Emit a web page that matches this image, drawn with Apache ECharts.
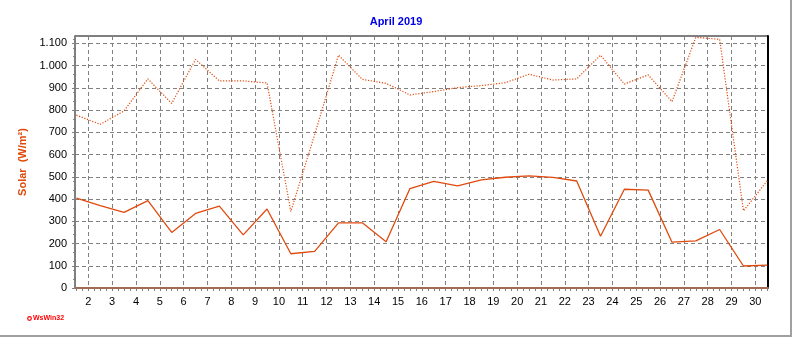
<!DOCTYPE html>
<html>
<head>
<meta charset="utf-8">
<script src="https://cdn.jsdelivr.net/npm/echarts@6/dist/echarts.min.js"></script>
<style>
html,body{margin:0;padding:0;background:#fff;}
#chart{width:792px;height:337px;}
</style>
</head>
<body>
<div id="chart"></div>
<script>
// ---- data ----
const titleText = 'April 2019';
const days = [1,2,3,4,5,6,7,8,9,10,11,12,13,14,15,16,17,18,19,20,21,22,23,24,25,26,27,28,29,30];
const solarValues = [404,370,340,393,250,335,368,239,355,154,165,293,293,208,447,479,459,486,498,504,497,481,233,444,440,206,212,263,99,103];
const solarMaxValues = [777,736,796,940,830,1028,931,931,922,344,690,1047,938,920,868,883,901,910,923,961,935,940,1047,917,958,838,1127,1118,347,482];
const solarMinValues = [0,0,0,0,0,0,0,0,0,0,0,0,0,0,0,0,0,0,0,0,0,0,0,0,0,0,0,0,0,0];
const xTickLabels = [2,3,4,5,6,7,8,9,10,11,12,13,14,15,16,17,18,19,20,21,22,23,24,25,26,27,28,29,30];
const yTickLabels = [0,100,200,300,400,500,600,700,800,900,1000,1100];

// ---- helpers ----
const LINE_COLOR = '#e04a0c';
const FONT = 'Liberation Sans, Arial, sans-serif';
const X_MIN = 1.44, X_MAX = 30.53, Y_MAX = 1133;
// each daily value is placed at midday of its day
const toPairs = vals => vals.map((v, i) => [days[i] + 0.5, v]);
const quarterTicks = [];
for (let t = 1.5; t <= 30.5; t += 0.25) quarterTicks.push(t);
const fmtThousands = v => String(v).replace(/\B(?=(\d{3})+(?!\d))/g, '.');

const chart = echarts.init(document.getElementById('chart'), null, {renderer: 'canvas'});
chart.setOption({
  animation: false,
  backgroundColor: '#ffffff',
  title: {
    text: titleText,
    left: 'center',
    top: 16,
    padding: 0,
    textStyle: {color: '#0000e6', fontSize: 11, fontWeight: 'bold', fontFamily: FONT}
  },
  grid: {
    left: 75, top: 36, right: 24, bottom: 49,
    show: true, borderColor: '#000', borderWidth: 1, backgroundColor: 'transparent'
  },
  xAxis: [
    {
      type: 'value', min: X_MIN, max: X_MAX, position: 'bottom',
      axisLine: {show: true, onZero: false, lineStyle: {color: '#808080', width: 2}},
      axisTick: {show: true, customValues: quarterTicks, length: 3, lineStyle: {color: '#808080', width: 1}},
      axisLabel: {customValues: xTickLabels, margin: 8, color: '#000', fontSize: 11, fontFamily: FONT},
      splitLine: {show: false}
    },
    {
      type: 'value', min: X_MIN, max: X_MAX, position: 'bottom',
      axisLine: {show: false},
      axisTick: {show: false, customValues: xTickLabels},
      axisLabel: {show: false, customValues: xTickLabels},
      splitLine: {show: true, lineStyle: {color: '#808080', width: 1, type: [4, 3]}}
    }
  ],
  yAxis: [
    {
      type: 'value', min: 0, max: Y_MAX, position: 'left',
      name: 'Solar  (W/m²)', nameLocation: 'middle', nameGap: 37, nameRotate: 90,
      nameTextStyle: {color: LINE_COLOR, fontSize: 11, fontWeight: 'bold', fontFamily: FONT},
      axisLine: {show: true, lineStyle: {color: '#808080', width: 2}},
      axisTick: {show: true, customValues: yTickLabels, length: 3, lineStyle: {color: '#808080'}},
      minorTick: {show: true, splitNumber: 5, length: 2, lineStyle: {color: '#808080'}},
      axisLabel: {customValues: yTickLabels, margin: 8, color: '#000', fontSize: 11, fontFamily: FONT,
        formatter: v => fmtThousands(v)},
      splitLine: {show: true, lineStyle: {color: '#808080', width: 1, type: [4, 3]}}
    },
    {
      type: 'value', min: 0, max: Y_MAX, position: 'right',
      axisLine: {show: true, lineStyle: {color: '#000', width: 2}},
      axisTick: {show: false}, axisLabel: {show: false}, splitLine: {show: false}
    }
  ],
  series: [
    {
      name: 'max', type: 'line', xAxisIndex: 0, yAxisIndex: 0,
      data: toPairs(solarMaxValues), symbol: 'none',
      lineStyle: {color: LINE_COLOR, width: 1.2, type: [1.2, 1.6]}, z: 3
    },
    {
      name: 'solar', type: 'line', xAxisIndex: 0, yAxisIndex: 0,
      data: toPairs(solarValues), symbol: 'none',
      lineStyle: {color: LINE_COLOR, width: 1.3}, z: 4
    },
    {
      name: 'min', type: 'line', xAxisIndex: 0, yAxisIndex: 0,
      data: toPairs(solarMinValues), symbol: 'none', clip: false,
      lineStyle: {color: LINE_COLOR, width: 1.5, type: [1, 1]}, z: 5
    }
  ],
  graphic: [
    {type: 'rect', shape: {x: 790, y: 0, width: 2, height: 337}, style: {fill: '#a0a0a0'}, silent: true},
    {type: 'rect', shape: {x: 0, y: 335, width: 792, height: 2}, style: {fill: '#a0a0a0'}, silent: true},
    {type: 'circle', shape: {cx: 29.5, cy: 318.5, r: 1.8}, style: {fill: 'none', stroke: '#ff0000', lineWidth: 1.2}, silent: true},
    {type: 'text', x: 33, y: 315, style: {text: 'WsWin32', fill: '#ff0000', font: 'bold 7px ' + FONT}, silent: true}
  ]
});
</script>
</body>
</html>
